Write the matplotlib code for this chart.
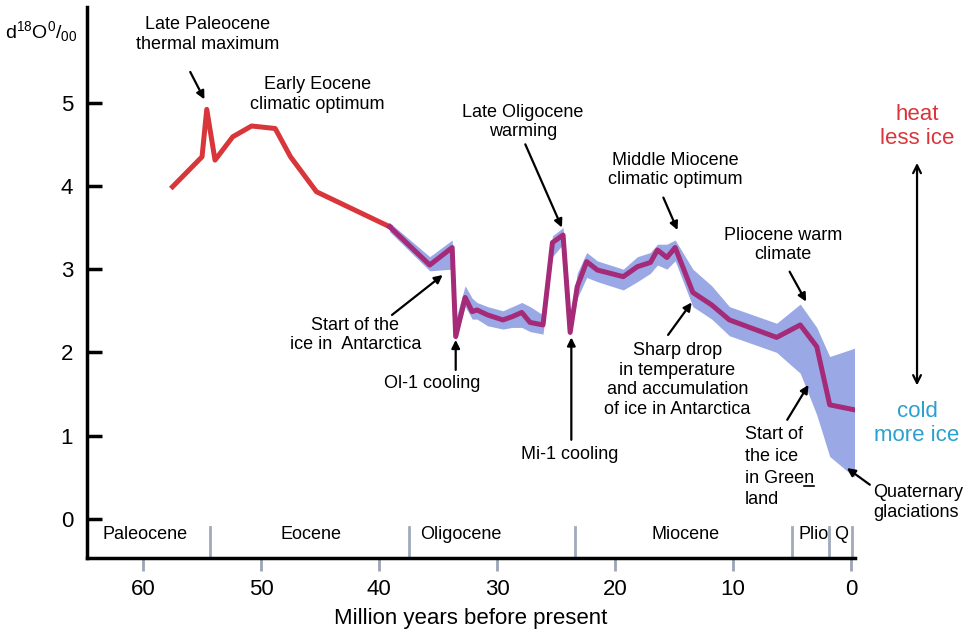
import matplotlib
matplotlib.use('Agg')
import matplotlib.pyplot as plt
from matplotlib.lines import Line2D

plt.rcParams['font.family'] = ['Liberation Sans', 'DejaVu Sans']
plt.rcParams['mathtext.default'] = 'regular'

# red part of the curve (Paleocene - Eocene), age in Ma and d18O
red_age = [57.5, 55.0, 54.6, 53.9, 52.4, 50.8, 48.8, 47.5, 45.3, 39.1]
red_d18o = [3.99, 4.35, 4.92, 4.31, 4.59, 4.72, 4.69, 4.35, 3.93, 3.51]

# purple part with the blue uncertainty band
age = [39.1, 35.7, 33.8, 33.5, 32.7, 32.1, 31.7, 30.8, 29.5, 28.7, 27.9, 27.2, 26.1,
       25.3, 24.4, 23.8, 23.2, 22.4, 21.5, 19.3, 18.1, 17.0, 16.4, 15.6, 14.9, 13.4,
       11.8, 10.3, 6.3, 4.3, 2.9, 1.8, -0.3]
d18o = [3.51, 3.05, 3.26, 2.19, 2.66, 2.49, 2.51, 2.45, 2.39, 2.43, 2.48, 2.36, 2.33,
        3.32, 3.41, 2.24, 2.79, 3.09, 2.99, 2.91, 3.03, 3.08, 3.23, 3.14, 3.26, 2.72,
        2.57, 2.39, 2.18, 2.33, 2.07, 1.37, 1.31]
band_hi = [3.56, 3.15, 3.35, 2.40, 2.80, 2.65, 2.60, 2.55, 2.50, 2.55, 2.60, 2.55, 2.45,
           3.40, 3.50, 2.40, 2.95, 3.20, 3.10, 3.00, 3.15, 3.20, 3.30, 3.30, 3.35, 3.00,
           2.80, 2.55, 2.35, 2.58, 2.30, 1.95, 2.05]
band_lo = [3.45, 2.98, 3.00, 2.15, 2.55, 2.40, 2.40, 2.32, 2.28, 2.30, 2.30, 2.25, 2.22,
           3.15, 3.30, 2.20, 2.65, 2.90, 2.85, 2.75, 2.85, 2.95, 3.05, 3.00, 3.10, 2.55,
           2.40, 2.20, 2.00, 1.75, 1.25, 0.75, 0.50]

# epochs
epoch_bounds = [54.3, 37.5, 23.4, 5.0, 1.86, -0.08]
epoch_names = ['Paleocene', 'Eocene', 'Oligocene', 'Miocene', 'Plio', 'Q']
epoch_mid = [59.8, 45.8, 33.1, 14.0, 3.2, 0.85]

xticks = [60, 50, 40, 30, 20, 10, 0]
yticks = [0, 1, 2, 3, 4, 5]

fig = plt.figure(figsize=(9.72, 6.35), dpi=100)
ax = fig.add_axes([0.0895, 0.1213, 0.7901, 0.8677])

ax.fill_between(age, band_lo, band_hi, color='#9aa8e6', lw=0, zorder=1)
ax.plot(red_age, red_d18o, color='#d8363a', lw=3.6, solid_joinstyle='round', zorder=3)
ax.plot(age, d18o, color='#a52a78', lw=3.6, solid_joinstyle='round', zorder=3)

ax.set_xlim(64.75, -0.34)
ax.set_ylim(-0.47, 6.15)
ax.set_xticks(xticks)
ax.set_yticks(yticks)
ax.tick_params(axis='y', direction='in', length=11, width=2.5, labelsize=16, pad=10)
ax.tick_params(axis='x', direction='out', length=9, width=2, color='#9aa5b8', labelsize=16, pad=6)
for s in ['top', 'right']:
    ax.spines[s].set_visible(False)
for s in ['left', 'bottom']:
    ax.spines[s].set_linewidth(2.5)
ax.set_xlabel('Million years before present', fontsize=16, labelpad=6)

# epoch bar
for b in epoch_bounds:
    ax.plot([b, b], [-0.47, -0.10], color='#a0aabb', lw=2, clip_on=False, zorder=2)
for name, m in zip(epoch_names, epoch_mid):
    ax.text(m, -0.19, name, ha='center', va='center', fontsize=13)

ax.text(68.6, 5.86, 'd$^{18}$O$^{0}$/$_{00}$', ha='center', va='center', fontsize=14, clip_on=False)

arw = dict(arrowstyle='-|>', color='black', lw=1.6, mutation_scale=12, shrinkA=0, shrinkB=0)
fs = 13
ax.text(54.5, 5.82, 'Late Paleocene\nthermal maximum', ha='center', va='center', fontsize=fs)
ax.annotate('', xy=(54.8, 5.04), xytext=(56.0, 5.37), arrowprops=arw)
ax.text(45.25, 5.10, 'Early Eocene\nclimatic optimum', ha='center', va='center', fontsize=fs)
ax.text(27.8, 4.77, 'Late Oligocene\nwarming', ha='center', va='center', fontsize=fs)
ax.annotate('', xy=(24.5, 3.50), xytext=(27.6, 4.50), arrowprops=arw)
ax.text(14.9, 4.19, 'Middle Miocene\nclimatic optimum', ha='center', va='center', fontsize=fs)
ax.annotate('', xy=(14.7, 3.47), xytext=(15.9, 3.86), arrowprops=arw)
ax.text(5.76, 3.29, 'Pliocene warm\nclimate', ha='center', va='center', fontsize=fs)
ax.annotate('', xy=(3.8, 2.61), xytext=(5.2, 2.97), arrowprops=arw)
ax.text(42.0, 2.21, 'Start of the\nice in  Antarctica', ha='center', va='center', fontsize=fs)
ax.annotate('', xy=(34.6, 2.93), xytext=(38.9, 2.45), arrowprops=arw)
ax.text(35.5, 1.63, 'Ol-1 cooling', ha='center', va='center', fontsize=fs)
ax.annotate('', xy=(33.5, 2.15), xytext=(33.5, 1.79), arrowprops=arw)
ax.text(23.8, 0.77, 'Mi-1 cooling', ha='center', va='center', fontsize=fs)
ax.annotate('', xy=(23.7, 2.18), xytext=(23.7, 0.95), arrowprops=arw)
ax.text(14.7, 1.67, 'Sharp drop\nin temperature\nand accumulation\nof ice in Antarctica',
        ha='center', va='center', fontsize=fs)
ax.annotate('', xy=(13.5, 2.60), xytext=(15.5, 2.21), arrowprops=arw)

# Greenland note, one line at a time so the "n" can be underlined
green_lines = ['Start of', 'the ice', 'in Green', 'land']
green_y = [0.96, 0.69, 0.43, 0.18]
green_txt = []
for s, yy in zip(green_lines, green_y):
    green_txt.append(ax.text(9.0, yy, s, ha='left', va='baseline', fontsize=fs))
ax.annotate('', xy=(3.6, 1.61), xytext=(5.4, 1.19), arrowprops=arw)

ax.text(-1.86, 0.20, 'Quaternary\nglaciations', ha='left', va='center', fontsize=fs, clip_on=False)
ax.annotate('', xy=(0.34, 0.61), xytext=(-1.6, 0.41), arrowprops=arw, annotation_clip=False)

# heat / cold scale on the right
ax.text(-5.6, 4.71, 'heat\nless ice', color='#d8363a', ha='center', va='center', fontsize=16,
        clip_on=False)
ax.text(-5.6, 1.15, 'cold\nmore ice', color='#2aa0d0', ha='center', va='center', fontsize=16,
        clip_on=False)
ax.annotate('', xy=(-5.6, 4.31), xytext=(-5.6, 1.57),
            arrowprops=dict(arrowstyle='<->', color='black', lw=1.6, mutation_scale=14),
            annotation_clip=False)

# underline under the last "n" of "Green"
fig.canvas.draw()
r = fig.canvas.get_renderer()
full = green_txt[2].get_window_extent(r)
tmp = ax.text(9.0, green_y[2], 'in Gree', ha='left', va='baseline', fontsize=fs)
part = tmp.get_window_extent(r)
tmp.remove()
base = ax.transData.transform((9.0, green_y[2]))[1]
fig.add_artist(Line2D([part.x1 + 0.5, full.x1], [base - 3, base - 3], color='black', lw=1.2,
                      transform=None))

plt.savefig('out.png', dpi=100, facecolor='white')
